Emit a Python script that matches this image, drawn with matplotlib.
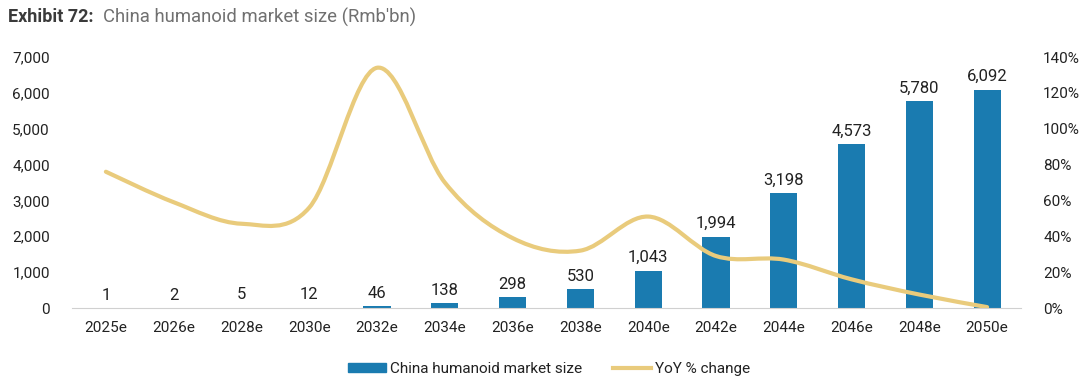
import matplotlib.pyplot as plt
import numpy as np
from matplotlib.path import Path
from matplotlib.patches import PathPatch
from matplotlib.lines import Line2D
from matplotlib.patches import Patch

plt.rcParams['font.family'] = ['Roboto', 'DejaVu Sans']

years = ['2025e', '2026e', '2028e', '2030e', '2032e', '2034e', '2036e',
         '2038e', '2040e', '2042e', '2044e', '2046e', '2048e', '2050e']
market = [1, 2, 5, 12, 46, 138, 298, 530, 1043, 1994, 3198, 4573, 5780, 6092]
yoy = [76, 59, 47, 56, 134, 70, 39, 32, 51, 29, 27, 16, 7.5, 0.5]

bar_col = '#1a7bb0'
line_col = '#e9cb7c'
txt = '#222222'

fig = plt.figure(figsize=(10.8, 3.84), dpi=100)
ax = fig.add_axes([72/1080, 76/384, 949/1080, 251/384])
ax2 = ax.twinx()

x = np.arange(len(years))
bars = ax.bar(x, market, width=0.4, color=bar_col, zorder=2)
for xi, v in zip(x, market):
    ax.text(xi, v + 150, f'{v:,}', ha='center', va='bottom', fontsize=12, color=txt)

ax.set_xlim(-0.5, len(years) - 0.5)
ax.set_ylim(0, 7000)
ax.set_yticks(range(0, 7001, 1000))
ax.set_yticklabels([f'{v:,}' for v in range(0, 7001, 1000)])
ax.set_xticks(x)
ax.set_xticklabels(years)
ax.tick_params(length=0, labelsize=11, colors=txt)
ax.tick_params(axis='y', pad=16)
ax.tick_params(axis='x', pad=9)
for s in ['top', 'left', 'right']:
    ax.spines[s].set_visible(False)
    ax2.spines[s].set_visible(False)
ax.spines['bottom'].set_color('#d0d0d0')
ax2.spines['bottom'].set_visible(False)

# smoothed line (Catmull-Rom converted to cubic Bezier)
pts = np.column_stack([x, yoy]).astype(float)
verts = [tuple(pts[0])]
codes = [Path.MOVETO]
for i in range(len(pts) - 1):
    p0 = pts[i - 1] if i > 0 else pts[i]
    p1 = pts[i]
    p2 = pts[i + 1]
    p3 = pts[i + 2] if i + 2 < len(pts) else pts[i + 1]
    c1 = p1 + (p2 - p0) / 6
    c2 = p2 - (p3 - p1) / 6
    verts += [tuple(c1), tuple(c2), tuple(p2)]
    codes += [Path.CURVE4] * 3
ax2.add_patch(PathPatch(Path(verts, codes), facecolor='none', edgecolor=line_col,
                        lw=3, capstyle='round', zorder=3))
ax2.set_ylim(0, 140)
ax2.set_yticks(range(0, 141, 20))
ax2.set_yticklabels([f'{v}%' for v in range(0, 141, 20)])
ax2.tick_params(length=0, labelsize=11, colors=txt, pad=16)

fig.text(8/1080, 1 - 17/384, 'Exhibit 72:', fontsize=13, fontweight='bold',
         color='#3a3a3a', va='center')
fig.text(103/1080, 1 - 17/384, "China humanoid market size (Rmb'bn)", fontsize=13.3,
         color='#707070', va='center')

handles = [Patch(color=bar_col), Line2D([0], [0], color=line_col, lw=3)]
fig.legend(handles, ['China humanoid market size', 'YoY % change'],
           loc='center', bbox_to_anchor=(549/1080, 1 - 369/384), ncol=2,
           frameon=False, fontsize=11, handlelength=2.5, handleheight=0.6,
           columnspacing=2.0, handletextpad=0.25, labelcolor=txt)

fig.savefig('out.png', dpi=100)
